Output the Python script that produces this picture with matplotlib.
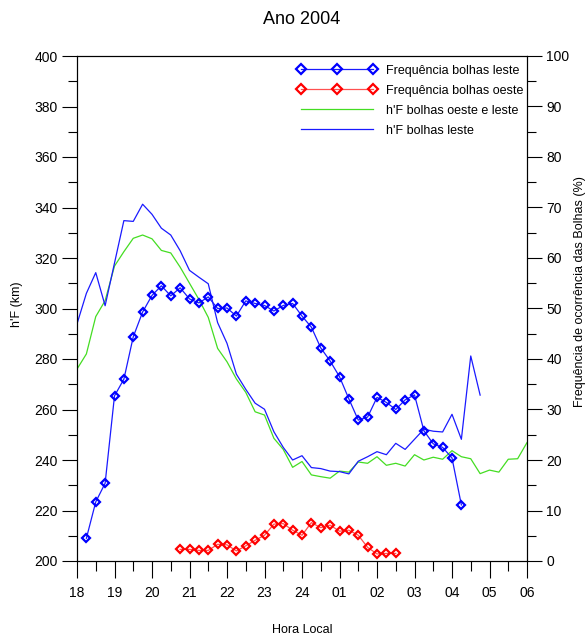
import matplotlib
matplotlib.use('Agg')
import matplotlib.pyplot as plt
from matplotlib.ticker import MultipleLocator

plt.rcParams['font.family'] = ['Liberation Sans', 'DejaVu Sans']

# hours counted past midnight as 24+h
hora_ticks = [18, 19, 20, 21, 22, 23, 24, 25, 26, 27, 28, 29, 30]
hora_labels = ['18', '19', '20', '21', '22', '23', '24', '01', '02', '03', '04', '05', '06']

# h'F bolhas leste (km), every 15 min from 18:00 to 04:45
hf_leste_t = [18 + 0.25 * i for i in range(44)]
hf_leste = [293.9, 306.0, 314.2, 301.1, 318.0, 334.8, 334.5, 341.3, 337.3, 331.8,
            329.1, 322.9, 315.1, 312.4, 309.8, 294.4, 286.2, 274.0, 268.0, 262.5,
            260.1, 251.2, 245.0, 240.0, 241.7, 237.0, 236.6, 235.6, 235.4, 234.5,
            239.5, 241.3, 243.3, 242.1, 246.6, 244.2, 248.2, 252.2, 251.4, 251.1,
            258.1, 248.2, 281.2, 265.7]

# h'F bolhas oeste e leste (km), 18:00 to 06:00
hf_todas_t = [18 + 0.25 * i for i in range(49)]
hf_todas = [276.0, 282.0, 296.8, 303.1, 316.8, 322.5, 327.8, 329.1, 327.6, 323.0,
            322.0, 316.4, 310.0, 303.6, 296.5, 284.2, 278.9, 272.1, 266.8, 259.1,
            257.8, 248.6, 244.2, 237.1, 239.4, 234.1, 233.4, 232.8, 235.6, 235.2,
            239.2, 238.7, 241.3, 237.9, 238.7, 237.6, 242.1, 240.0, 241.1, 240.3,
            243.7, 241.3, 240.5, 234.6, 236.0, 235.2, 240.3, 240.5, 246.9]

# frequencia bolhas leste (%), 18:15 to 04:15
freq_leste_t = [18.25 + 0.25 * i for i in range(41)]
freq_leste = [4.5, 11.7, 15.4, 32.7, 36.0, 44.4, 49.3, 52.6, 54.5, 52.5,
              54.1, 51.9, 51.1, 52.3, 50.0, 50.1, 48.5, 51.5, 51.0, 50.6,
              49.5, 50.6, 51.0, 48.5, 46.3, 42.2, 39.6, 36.5, 32.1, 27.9,
              28.5, 32.4, 31.4, 30.0, 31.9, 32.9, 25.8, 23.2, 22.5, 20.4, 11.1]

# frequencia bolhas oeste (%), 20:45 to 02:30
freq_oeste_t = [20.75 + 0.25 * i for i in range(24)]
freq_oeste = [2.3, 2.3, 2.1, 2.1, 3.3, 3.2, 2.0, 3.0, 4.1, 5.1,
              7.3, 7.4, 6.1, 5.1, 7.6, 6.6, 7.1, 5.9, 6.1, 5.1,
              2.7, 1.4, 1.5, 1.5]

fig = plt.figure(figsize=(5.88, 6.37), dpi=100)
ax = fig.add_axes([77 / 588, 1 - 561 / 637, 450 / 588, 505 / 637])
ax2 = ax.twinx()

l_todas, = ax.plot(hf_todas_t, hf_todas, color='#44dd22', lw=0.9,
                   label="h'F bolhas oeste e leste")
l_leste, = ax.plot(hf_leste_t, hf_leste, color='#1a1aff', lw=0.9,
                   label="h'F bolhas leste")

f_leste, = ax2.plot(freq_leste_t, freq_leste, color='#1a1aff', lw=0.9,
                    marker='D', ms=4.2, mfc='none', mec='#0000ff', mew=1.6,
                    label='Frequência bolhas leste')
f_oeste, = ax2.plot(freq_oeste_t, freq_oeste, color='#ff5050', lw=0.9,
                    marker='D', ms=4.2, mfc='none', mec='#ff0000', mew=1.6,
                    label='Frequência bolhas oeste')

ax.set_xlim(18, 30)
ax.set_ylim(200, 400)
ax2.set_ylim(0, 100)

ax.set_xticks(hora_ticks)
ax.set_xticklabels(hora_labels)
ax.xaxis.set_minor_locator(MultipleLocator(0.5))
ax.yaxis.set_major_locator(MultipleLocator(20))
ax.yaxis.set_minor_locator(MultipleLocator(10))
ax2.yaxis.set_major_locator(MultipleLocator(10))
ax2.yaxis.set_minor_locator(MultipleLocator(5))

ax.tick_params(axis='x', which='major', direction='out', length=12, width=0.8,
               pad=6, labelsize=10)
ax.tick_params(axis='x', which='minor', direction='out', length=7, width=0.8)
ax.tick_params(axis='y', which='major', direction='out', length=11, width=0.8,
               pad=3, labelsize=10)
ax.tick_params(axis='y', which='minor', direction='out', length=6.5, width=0.8)
ax2.tick_params(axis='y', which='major', direction='out', length=11, width=0.8,
                pad=3, labelsize=10)
ax2.tick_params(axis='y', which='minor', direction='out', length=6.5, width=0.8)

for a in (ax, ax2):
    for s in a.spines.values():
        s.set_linewidth(0.8)

ax.set_title('Ano 2004', fontsize=13, pad=23)
ax.set_xlabel('Hora Local', fontsize=9, labelpad=17)
fig.text(17 / 588, 1 - 304 / 637, "h'F (km)", rotation=90, ha='center',
         va='center', fontsize=9)
fig.text(580 / 588, 1 - 292 / 637, 'Frequência de ocorrência das Bolhas (%)',
         rotation=90, ha='center', va='center', fontsize=9)

ax2.legend([f_leste, f_oeste, l_todas, l_leste],
           [f_leste.get_label(), f_oeste.get_label(), l_todas.get_label(), l_leste.get_label()],
           loc='upper left', bbox_to_anchor=(0.489, 0.983), frameon=False,
           fontsize=9, numpoints=3, handlelength=6.36, handletextpad=0.76,
           labelspacing=0.64, borderpad=0, borderaxespad=0, markerscale=1.25)

fig.savefig('out.png', dpi=100)
